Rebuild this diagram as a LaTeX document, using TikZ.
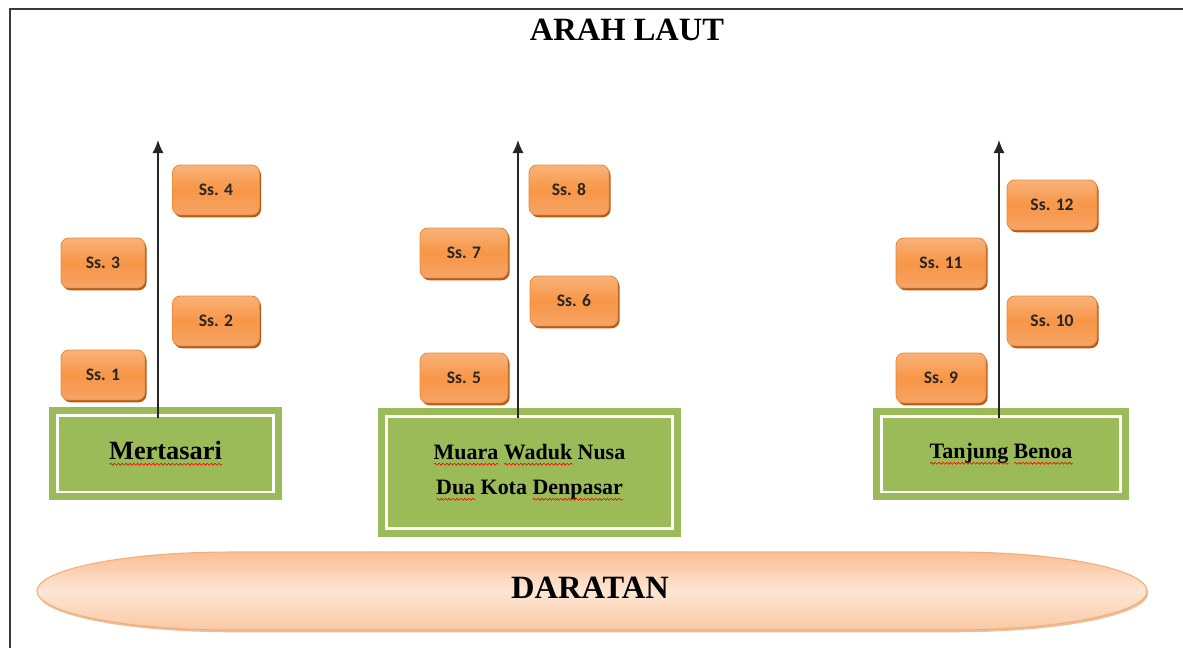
\documentclass[tikz,border=0pt]{standalone}
\usepackage{fontspec}
\setmainfont{Liberation Serif}
\newfontfamily\calibri{Carlito}
\usepackage{xcolor}
\usetikzlibrary{arrows.meta,shadows,decorations.pathmorphing}
\definecolor{frame}{HTML}{3A3A3A}
\definecolor{ssTop}{HTML}{F9B27A}
\definecolor{ssMid}{HTML}{F79646}
\definecolor{ssBot}{HTML}{F6A466}
\definecolor{ssEdge}{HTML}{E98A3E}
\definecolor{ssShadow}{HTML}{B55A12}
\definecolor{siteGreen}{HTML}{9BBB59}
\definecolor{landTop}{HTML}{F8BE93}
\definecolor{landMid}{HTML}{FDE6D4}
\definecolor{landBot}{HTML}{F9C9A4}
\definecolor{landEdge}{HTML}{F2AE7A}
% red spell-check wave under a word
\newlength\wavelen
\newcommand\spellwave[1]{\settowidth\wavelen{#1}%
  \rlap{\raisebox{-2.6pt}{\tikz[baseline=0pt]\draw[red, fill=none, line width=0.35pt, decorate,
    decoration={snake, amplitude=0.55pt, segment length=2.2pt}] (0pt,0pt) -- (\wavelen,0pt);}}#1}
\tikzset{
  framed/.style={line width=0.8pt, draw=frame},
  arr/.style={-{Latex[length=7.5pt,width=6.5pt]}, line width=0.9pt, draw=black!85},
  ss/.style={rectangle, rounded corners=4.5pt, minimum height=1.0cm,
    top color=ssTop, bottom color=ssBot, middle color=ssMid,
    draw=ssEdge, line width=0.5pt,
    drop shadow={shadow xshift=0.9pt, shadow yshift=-1.3pt, fill=ssShadow, opacity=1},
    font=\calibri\bfseries\fontsize{10}{12}\selectfont, text=black!85},
  site/.style={rectangle, fill=siteGreen, draw=white, line width=1.7pt,
    preaction={draw=siteGreen, line width=9pt}, align=center,
    font=\bfseries\fontsize{12.5}{20}\selectfont},
  land/.style={top color=landTop, bottom color=landBot, middle color=landMid,
    draw=landEdge, line width=0.6pt,
    drop shadow={shadow xshift=0.7pt, shadow yshift=-1.3pt, fill=landEdge!75!brown, opacity=0.7}},
  landtxt/.style={font=\bfseries\fontsize{18.5}{20}\selectfont},
  ttl/.style={font=\bfseries\fontsize{18.5}{20}\selectfont}
}
\begin{document}
\begin{tikzpicture}[x=0.02cm,y=-0.02cm]
  \useasboundingbox (0,0) rectangle (1183,648);
  \draw[framed] (1183,9) -- (10,9) -- (10,648);

  \node[ttl] (laut) at (627,30) {ARAH LAUT};

  % land at the bottom
  \path[land] (230,552) -- (954,552)
    arc[start angle=90, end angle=-90, x radius=3.86cm, y radius=0.78cm]
    -- (230,630)
    arc[start angle=-90, end angle=-270, x radius=3.86cm, y radius=0.78cm] -- cycle;
  \node[landtxt] (darat) at (590,588) {DARATAN};

  % sites
  \node[site, minimum width=4.34cm, minimum height=1.54cm] (mert) at (165.5,453.5)
    {\fontsize{15}{18}\selectfont\spellwave{Mertasari}};
  \node[site, minimum width=5.74cm, minimum height=2.26cm] (muara) at (529.5,472.5)
    {\spellwave{Muara} \spellwave{Waduk} Nusa\\\spellwave{Dua} Kota \spellwave{Denpasar}};
  \node[site, minimum width=4.8cm, minimum height=1.52cm] (tanj) at (1001,454)
    {\spellwave{Tanjung} \spellwave{Benoa}};

  % arrows towards the sea
  \foreach \i/\x in {1/158, 2/518, 3/999} {
    \coordinate (a\i) at (\x,418);
    \coordinate (t\i) at (\x,140);
    \draw[arr] (a\i) -- (t\i);
  }

  % sampling stations
  \foreach \n/\x/\y/\w in {1/103/375/1.68, 2/216/321/1.74, 3/103/263/1.68, 4/216/190/1.74,
                           5/464/378/1.76, 6/574/301/1.76, 7/464/253/1.76, 8/569/190/1.6,
                           9/941/378/1.8, 10/1052/321/1.8, 11/941/263/1.8, 12/1052/205/1.8}
    \node[ss, minimum width=\w cm] (ss\n) at (\x,\y) {Ss. \n};
\end{tikzpicture}
\end{document}
